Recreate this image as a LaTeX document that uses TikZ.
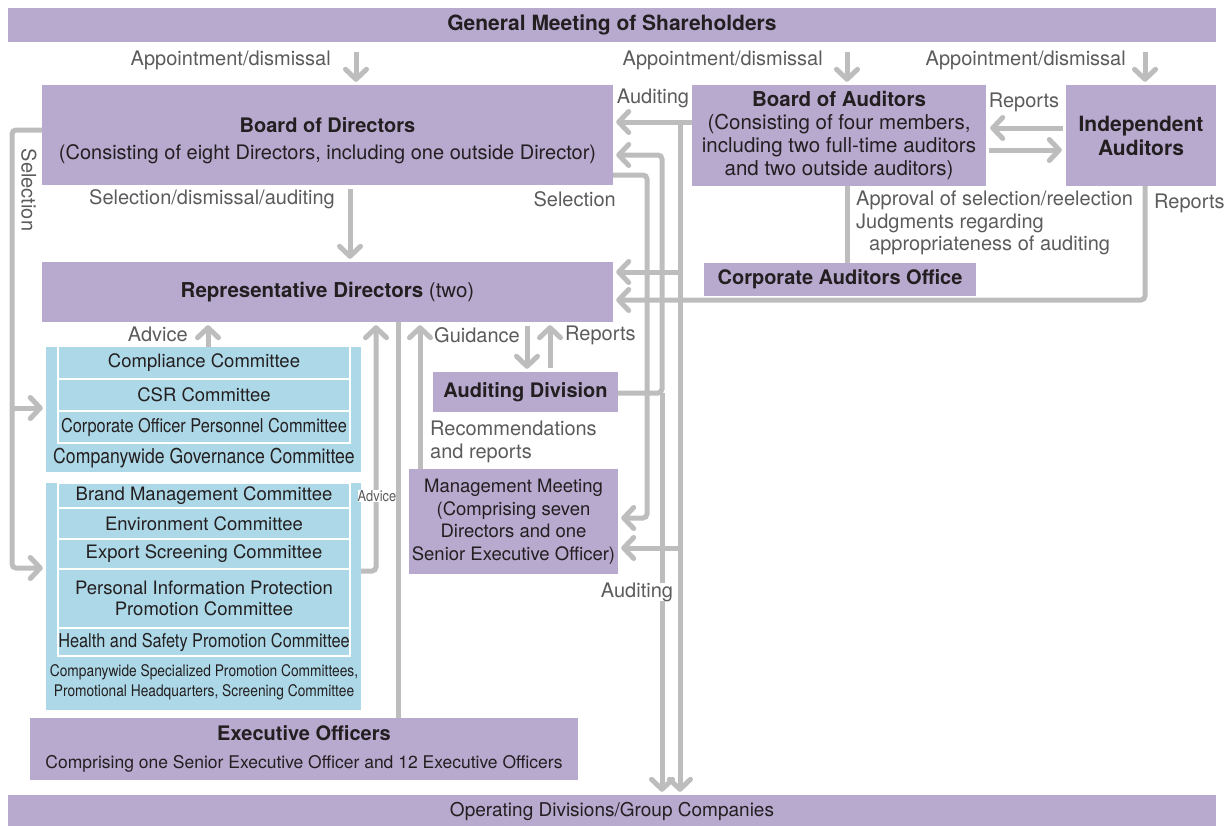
\documentclass[tikz,border=0pt]{standalone}
\usepackage{fontspec}
\setmainfont{TeX Gyre Heros}
\newfontfamily\narrowfont[FakeStretch=0.86]{TeX Gyre Heros}
\usetikzlibrary{arrows.meta}

\definecolor{boxpurple}{HTML}{B8A9CF}
\definecolor{boxblue}{HTML}{ADD8E7}
\definecolor{linegray}{HTML}{BDBDBD}
\definecolor{textdark}{HTML}{231F20}
\definecolor{textgray}{HTML}{5B5B5D}

\begin{document}
\begin{tikzpicture}[x=1pt,y=-1pt]
	\tikzstyle{box_purple} = [rectangle, fill=boxpurple, inner sep=0pt, align=center, text=textdark, font=\fontsize{20.5}{23}\selectfont]
	\tikzstyle{box_blue} = [rectangle, fill=boxblue, inner sep=0pt, minimum width=315pt]
	\tikzstyle{row_blue} = [rectangle, fill=boxblue, draw=white, line width=1.5pt, inner sep=0pt, minimum width=292pt, align=center, text=textdark, font=\fontsize{18.5}{21}\selectfont]
	\tikzstyle{label_gray} = [inner sep=1pt, align=left, text=textgray, font=\fontsize{20}{22.5}\selectfont]
	\tikzstyle{line_gray} = [draw=linegray, line width=5pt, rounded corners=4pt]
	\tikzstyle{arrow_gray} = [line_gray, -{Straight Barb[length=10pt,width=21pt,round]}, shorten >=3pt]

	\useasboundingbox (0,0) rectangle (1224,825);

%------------------------------------------------------------
	\node[box_purple, minimum width=1208pt, minimum height=34pt, font=\bfseries\fontsize{21}{24}\selectfont] (gms) at (612,25) {General Meeting of Shareholders};

	\node[box_purple, minimum width=571pt, minimum height=100pt] (bod) at (327.5,135) {};
	\node[align=center, text=textdark, font=\fontsize{20}{27}\selectfont] (bod_text) at (327.5,141) {{\bfseries Board of Directors}\\(Consisting of eight Directors, including one outside Director)};
	\node[box_purple, minimum width=294pt, minimum height=101pt] (boa) at (839,135.5) {{\bfseries Board of Auditors}\\(Consisting of four members,\\including two full-time auditors\\and two outside auditors)};
	\node[box_purple, minimum width=150pt, minimum height=101pt, font=\bfseries\fontsize{21}{24}\selectfont] (ia) at (1141,135.5) {Independent\\Auditors};

%------------------------------------------------------------
	\node[box_purple, minimum width=571pt, minimum height=60pt] (rep) at (327.5,292) {{\bfseries Representative Directors} (two)};
	\node[box_purple, minimum width=272pt, minimum height=33pt, font=\bfseries\fontsize{20}{23}\selectfont] (cao) at (840,279.5) {Corporate Auditors Office};
	\node[box_purple, minimum width=185pt, minimum height=40pt, font=\bfseries\fontsize{20}{23}\selectfont] (aud) at (525.5,392) {Auditing Division};
	\node[box_purple, minimum width=209pt, minimum height=105pt, font=\fontsize{18.5}{22.5}\selectfont] (mm) at (513.5,521.5) {Management Meeting\\(Comprising seven\\Directors and one\\Senior Executive Officer)};

%------------------------------------------------------------
	\node[box_blue, minimum height=125pt] (blue_one) at (203.5,409.5) {};
	\node[row_blue, minimum height=33pt] (cmp) at (204,362.5) {Compliance Committee};
	\node[row_blue, minimum height=32pt] (csr) at (204,395) {CSR Committee};
	\node[row_blue, minimum height=32pt, font=\narrowfont\fontsize{19}{21}\selectfont] (cop) at (204,427) {Corporate Officer Personnel Committee};
	\node[text=textdark, font=\narrowfont\fontsize{20.5}{22}\selectfont] (gov) at (204,458) {Companywide Governance Committee};

%------------------------------------------------------------
	\node[box_blue, minimum height=227pt] (blue_two) at (203.5,596.5) {};
	\node[row_blue, minimum height=25pt] (brand) at (204,495.5) {Brand Management Committee};
	\node[row_blue, minimum height=31pt] (env) at (204,523.5) {Environment Committee};
	\node[row_blue, minimum height=30pt] (exp) at (204,554) {Export Screening Committee};
	\node[row_blue, minimum height=59pt] (pip) at (204,598.5) {Personal Information Protection\\Promotion Committee};
	\node[row_blue, minimum height=28pt, font=\narrowfont\fontsize{19}{21}\selectfont] (hs) at (204,642) {Health and Safety Promotion Committee};
	\node[text=textdark, align=center, font=\narrowfont\fontsize{16}{20}\selectfont] (spc) at (204,682) {Companywide Specialized Promotion Committees,\\Promotional Headquarters, Screening Committee};

%------------------------------------------------------------
	\node[box_purple, minimum width=548pt, minimum height=62pt, font=\fontsize{17.5}{28}\selectfont] (eo) at (304,749) {{\bfseries\fontsize{20}{28}\selectfont Executive Officers}\\Comprising one Senior Executive Officer and 12 Executive Officers};
	\node[box_purple, minimum width=1208pt, minimum height=32pt, font=\fontsize{19}{22}\selectfont] (od) at (612,811) {Operating Divisions/Group Companies};

%------------------------------------------------------------
	\coordinate (ap_one) at (356,0);
	\coordinate (ap_two) at (847,0);
	\coordinate (ap_three) at (1145,0);
	\draw[arrow_gray, shorten <=10pt] (gms.south -| ap_one) -- (bod.north -| ap_one);
	\draw[arrow_gray, shorten <=10pt] (gms.south -| ap_two) -- (boa.north -| ap_two);
	\draw[arrow_gray, shorten <=10pt] (gms.south -| ap_three) -- (ia.north -| ap_three);

	\draw[arrow_gray, shorten <=4pt] ([xshift=22.5pt]bod.south) -- ([xshift=22.5pt]rep.north);
	\draw[arrow_gray, shorten <=3pt, shorten >=4pt] ([yshift=7.5pt]ia.west) -- ([yshift=7.5pt]boa.east);
	\draw[arrow_gray, shorten <=3pt, shorten >=4pt] ([yshift=-14.5pt]boa.east) -- ([yshift=-14.5pt]ia.west);
	\draw[line_gray] (boa.south -| ap_two) -- (cao.north -| ap_two);

%------------------------------------------------------------
	\coordinate (sel_top) at (12,130);
	\coordinate (sel_mid) at (12,408);
	\coordinate (sel_bot) at (12,568);
	\draw[arrow_gray] (bod.west |- sel_top) -- (sel_top) -- (sel_bot) -- (blue_two.west |- sel_bot);
	\draw[arrow_gray] (sel_mid) -- (blue_one.west |- sel_mid);

	\coordinate (adv_one) at (208,0);
	\coordinate (adv_two) at (376,571);
	\coordinate (eo_line) at (398,0);
	\coordinate (rec_line) at (420,0);
	\coordinate (gd_line) at (527,0);
	\coordinate (rp_line) at (550,0);
	\draw[arrow_gray] (blue_one.north -| adv_one) -- (rep.south -| adv_one);
	\draw[arrow_gray] (blue_two.east |- adv_two) -- (adv_two) -- (rep.south -| adv_two);
	\draw[line_gray] (rep.south -| eo_line) -- (eo.north -| eo_line);
	\draw[arrow_gray] (mm.north -| rec_line) -- (rep.south -| rec_line);
	\draw[arrow_gray, shorten <=4pt] (rep.south -| gd_line) -- (aud.north -| gd_line);
	\draw[arrow_gray, shorten <=4pt] (aud.north -| rp_line) -- (rep.south -| rp_line);

%------------------------------------------------------------
	\coordinate (bs_top) at (647,175);
	\coordinate (bs_bot) at (647,518);
	\coordinate (div_top) at (662,155);
	\coordinate (div_mid) at (662,393);
	\coordinate (aud_top) at (680,122);
	\coordinate (aud_rep) at (680,272);
	\coordinate (aud_mm) at (680,548);
	\coordinate (ia_bot) at (1145,300);

	\draw[arrow_gray] (bod.east |- bs_top) -- (bs_top) -- (bs_bot) -- (mm.east |- bs_bot);
	\draw[arrow_gray] (aud.east |- div_mid) -- (div_mid) -- (div_top) -- (bod.east |- div_top);
	\draw[arrow_gray] (div_mid) -- (od.north -| div_mid);
	\draw[arrow_gray] (boa.west |- aud_top) -- (bod.east |- aud_top);
	\draw[arrow_gray] (aud_top) -- (od.north -| aud_top);
	\draw[arrow_gray] (aud_rep) -- (rep.east |- aud_rep);
	\draw[arrow_gray] (aud_mm) -- (mm.east |- aud_mm);
	\draw[arrow_gray] (ia.south -| ia_bot) -- (ia_bot) -- (rep.east |- ia_bot);

%------------------------------------------------------------
	\node[label_gray, anchor=east] (l_ap_one) at (332,60) {Appointment/dismissal};
	\node[label_gray, anchor=east] (l_ap_two) at (824,60) {Appointment/dismissal};
	\node[label_gray, anchor=east] (l_ap_three) at (1127,60) {Appointment/dismissal};
	\node[label_gray] (l_aud_top) at (653,98) {Auditing};
	\node[label_gray] (l_rep_ia) at (1024,102) {Reports};
	\node[label_gray, anchor=east] (l_sda) at (336,199) {Selection/dismissal/auditing};
	\node[label_gray, anchor=east] (l_sel) at (617,199) {Selection};
	\node[label_gray, anchor=west] (l_rep_right) at (1153,203) {Reports};
	\node[label_gray, anchor=west] (l_appr) at (855,223) {Approval of selection/reelection\\Judgments regarding\\\hspace*{13pt}appropriateness of auditing};
	\node[label_gray, rotate=-90] (l_sel_left) at (29,190) {Selection};
	\node[label_gray, anchor=east] (l_adv_one) at (189,334) {Advice};
	\node[label_gray, anchor=east] (l_gd) at (521,335) {Guidance};
	\node[label_gray, anchor=west] (l_rp) at (564,335) {Reports};
	\node[label_gray, anchor=west] (l_rec) at (429,442) {Recommendations\\and reports};
	\node[label_gray, fill=white, inner sep=0pt, font=\narrowfont\fontsize{15}{16}\selectfont] (l_adv_two) at (377,496) {Advice};
	\node[label_gray, fill=white, inner sep=0pt] (l_aud_bot) at (637,592) {Auditing};

\end{tikzpicture}
\end{document}
